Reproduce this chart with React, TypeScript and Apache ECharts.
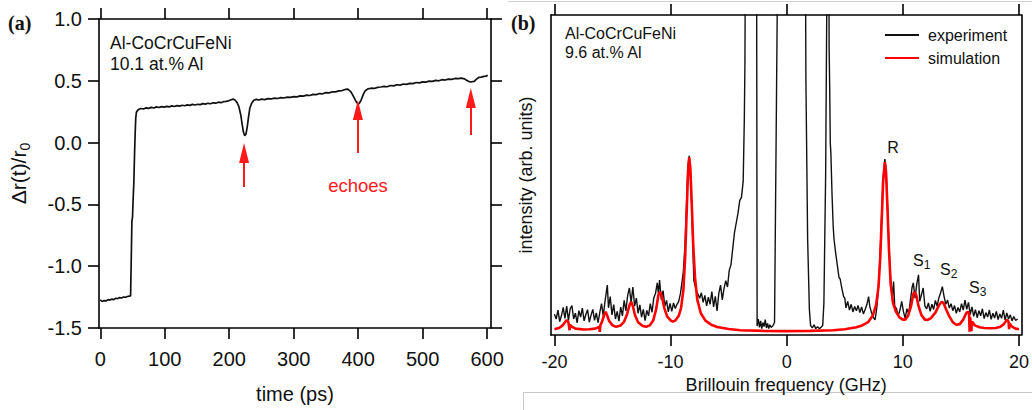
import React, { useEffect, useRef } from "react";
import * as echarts from "echarts";

const FONT = '"Liberation Sans", Arial, sans-serif';

// ---------- Panel (a): reflectivity change vs time ----------
const timeTicks = [0, 100, 200, 300, 400, 500, 600];
const reflectivity: [number, number][] = [
  [0, -1.272], [3, -1.285], [6, -1.278], [9, -1.281], [12, -1.27], [15, -1.274], [18, -1.266],
  [21, -1.27], [24, -1.259], [27, -1.262], [30, -1.254], [33, -1.257], [36, -1.249], [39, -1.251],
  [42, -1.245], [45, -1.242], [47, -1.24], [48, -0.95], [49, -0.64], [50, -0.6], [51, -0.45],
  [52, -0.33], [53, -0.12], [54, 0.06], [55, 0.2], [56, 0.245], [58, 0.262], [60, 0.27],
  [63, 0.276], [67, 0.272], [71, 0.281], [75, 0.277], [79, 0.285], [83, 0.28], [87, 0.289],
  [91, 0.284], [95, 0.291], [99, 0.287], [103, 0.293], [107, 0.289], [111, 0.297], [115, 0.292],
  [119, 0.299], [123, 0.295], [127, 0.302], [131, 0.298], [135, 0.305], [139, 0.301], [143, 0.309],
  [147, 0.304], [151, 0.31], [155, 0.307], [159, 0.315], [163, 0.311], [167, 0.318], [171, 0.314],
  [175, 0.322], [179, 0.319], [183, 0.327], [187, 0.323], [191, 0.331], [195, 0.334], [199, 0.338],
  [203, 0.347], [206, 0.352], [209, 0.345], [212, 0.325], [215, 0.29], [218, 0.22], [220, 0.15],
  [222, 0.085], [224, 0.055], [226, 0.07], [228, 0.13], [230, 0.21], [232, 0.28], [235, 0.32],
  [238, 0.343], [242, 0.35], [246, 0.345], [250, 0.352], [255, 0.348], [260, 0.356], [265, 0.353],
  [270, 0.36], [275, 0.357], [280, 0.364], [285, 0.361], [290, 0.368], [295, 0.366], [300, 0.372],
  [305, 0.37], [310, 0.378], [315, 0.376], [320, 0.384], [325, 0.381], [330, 0.39], [335, 0.388],
  [340, 0.397], [345, 0.395], [350, 0.404], [355, 0.402], [360, 0.411], [365, 0.41], [370, 0.418],
  [375, 0.421], [380, 0.43], [384, 0.432], [388, 0.415], [391, 0.39], [394, 0.36], [397, 0.33],
  [400, 0.31], [402, 0.32], [405, 0.35], [408, 0.39], [411, 0.42], [415, 0.435], [420, 0.44],
  [425, 0.438], [430, 0.447], [435, 0.45], [440, 0.455], [445, 0.452], [450, 0.462], [455, 0.459],
  [460, 0.468], [465, 0.465], [470, 0.474], [475, 0.471], [480, 0.479], [485, 0.477], [490, 0.486],
  [495, 0.483], [500, 0.491], [505, 0.489], [510, 0.497], [515, 0.495], [520, 0.503], [525, 0.5],
  [530, 0.509], [535, 0.506], [540, 0.514], [545, 0.512], [550, 0.519], [555, 0.517], [560, 0.522],
  [565, 0.516], [568, 0.505], [572, 0.494], [576, 0.492], [580, 0.496], [583, 0.512], [587, 0.527],
  [591, 0.53], [595, 0.536], [598, 0.538], [601, 0.544],
];
// echo arrows: [time, tail value, head value]
const echoArrows: [number, number, number][] = [
  [223, -0.36, -0.084],
  [399.5, -0.084, 0.264],
  [574.7, 0.061, 0.361],
];

// ---------- Panel (b): Brillouin spectrum ----------
const freqTicks = [-20, -10, 0, 10, 20];
const experiment: [number, number][] = [
  [-20.0, 6.5], [-19.85, 5.0], [-19.7, 7.8], [-19.55, 4.2], [-19.4, 6.0], [-19.25, 8.6], [-19.1, 5.2],
  [-18.95, 9.0], [-18.8, 4.5], [-18.65, 8.2], [-18.5, 9.2], [-18.35, 5.0], [-18.2, 6.8], [-18.05, 3.8],
  [-17.9, 7.6], [-17.75, 5.6], [-17.6, 8.4], [-17.45, 4.4], [-17.3, 6.4], [-17.15, 7.9], [-17.0, 4.0],
  [-16.85, 6.2], [-16.7, 8.0], [-16.55, 4.6], [-16.4, 6.9], [-16.25, 3.9], [-16.1, 7.0], [-15.95, 9.8],
  [-15.8, 6.0], [-15.65, 10.5], [-15.45, 15.6], [-15.35, 8.5], [-15.2, 12.0], [-15.05, 6.3], [-14.9, 9.5],
  [-14.75, 5.0], [-14.6, 7.4], [-14.45, 4.3], [-14.3, 8.7], [-14.15, 6.0], [-14.0, 10.8], [-13.85, 7.5],
  [-13.7, 12.3], [-13.55, 14.7], [-13.4, 10.2], [-13.25, 15.0], [-13.1, 9.0], [-12.95, 11.5], [-12.8, 6.8],
  [-12.65, 9.4], [-12.5, 5.6], [-12.35, 8.0], [-12.2, 4.5], [-12.05, 7.7], [-11.9, 6.0], [-11.75, 9.8],
  [-11.6, 7.1], [-11.45, 11.6], [-11.3, 13.0], [-11.15, 16.3], [-11.05, 12.8], [-10.95, 17.2], [-10.8, 11.0],
  [-10.65, 13.9], [-10.5, 9.0], [-10.35, 10.8], [-10.2, 7.2], [-10.05, 9.9], [-9.9, 7.4], [-9.75, 10.0],
  [-9.6, 8.3], [-9.45, 9.6], [-9.3, 10.5], [-9.15, 13.0], [-9.0, 17], [-8.9, 20], [-8.75, 29], [-8.6, 44],
  [-8.5, 53], [-8.4, 56], [-8.3, 51], [-8.2, 42], [-8.1, 30], [-8.0, 17], [-7.9, 15.5], [-7.8, 14],
  [-7.65, 12.8], [-7.5, 11.5], [-7.35, 13.2], [-7.2, 10.2], [-7.05, 12.4], [-6.9, 9.1], [-6.75, 11.8],
  [-6.6, 9.6], [-6.45, 13.6], [-6.3, 8.8], [-6.15, 12.1], [-6.0, 7.5], [-5.85, 13.0], [-5.7, 15.6],
  [-5.55, 11.0], [-5.4, 14.6], [-5.25, 17.0], [-5.1, 15.0], [-4.95, 20.2], [-4.8, 22.0], [-4.65, 27.0],
  [-4.5, 32], [-4.35, 35], [-4.2, 38], [-4.05, 42], [-3.9, 43], [-3.75, 48], [-3.7, 58], [-3.65, 68],
  [-3.6, 85], [-3.55, 130], [-2.6, 130], [-2.55, 2.8], [-2.45, 5.0], [-2.35, 2.4], [-2.25, 4.4],
  [-2.15, 2.0], [-2.05, 3.9], [-1.95, 2.6], [-1.85, 4.8], [-1.75, 2.2], [-1.65, 3.6], [-1.55, 2.0],
  [-1.45, 3.2], [-1.35, 2.4], [-1.2, 2.8], [-1.05, 4.0], [-0.75, 130], [1.6, 130], [1.65, 80], [1.8, 30],
  [1.95, 8], [2.05, 3], [2.2, 2.2], [2.35, 3.2], [2.5, 2.0], [2.65, 2.6], [2.8, 2.0], [2.95, 2.4],
  [3.1, 3.0], [3.2, 10], [3.35, 50], [3.5, 130], [3.62, 130], [3.65, 90], [3.7, 77], [3.75, 60],
  [3.8, 57], [3.9, 44], [4.0, 34], [4.07, 30], [4.2, 26], [4.35, 22], [4.5, 18], [4.6, 17.5],
  [4.75, 14.5], [4.9, 12], [5.0, 11.5], [5.1, 8.5], [5.25, 10.5], [5.4, 7.8], [5.55, 9.6], [5.7, 7.2],
  [5.85, 8.9], [6.0, 7.6], [6.15, 9.2], [6.3, 7.0], [6.45, 8.8], [6.6, 6.6], [6.75, 8.0], [6.9, 9.5],
  [7.05, 12.0], [7.15, 9.0], [7.3, 7.0], [7.45, 5.5], [7.6, 4.7], [7.7, 7], [7.8, 10], [7.95, 18],
  [8.05, 26], [8.2, 40], [8.3, 49], [8.45, 55], [8.55, 52], [8.65, 43], [8.8, 28], [8.95, 17], [9.1, 12],
  [9.2, 16.7], [9.3, 9.0], [9.45, 8.2], [9.6, 6.0], [9.75, 7.8], [9.9, 10.5], [10.05, 7.3], [10.2, 5.2],
  [10.35, 8.2], [10.5, 6.6], [10.65, 10.8], [10.8, 15.0], [10.9, 16.3], [11.05, 11.5], [11.2, 16.0],
  [11.35, 18.8], [11.45, 10.5], [11.6, 12.6], [11.75, 14.7], [11.9, 9.0], [12.05, 8.2], [12.2, 10.0],
  [12.35, 7.4], [12.5, 9.6], [12.65, 8.0], [12.8, 10.8], [12.95, 9.0], [13.1, 11.6], [13.25, 13.2],
  [13.4, 15.1], [13.55, 12.0], [13.7, 9.6], [13.85, 10.9], [14.0, 8.4], [14.15, 9.8], [14.3, 7.6],
  [14.45, 9.2], [14.6, 6.8], [14.75, 8.6], [14.9, 7.2], [15.05, 9.8], [15.2, 7.8], [15.35, 10.9],
  [15.5, 8.0], [15.65, 10.2], [15.8, 6.4], [15.95, 8.8], [16.1, 5.8], [16.25, 7.9], [16.4, 5.4],
  [16.55, 7.6], [16.7, 6.0], [16.85, 8.2], [17.0, 5.1], [17.15, 7.0], [17.3, 5.6], [17.45, 7.8],
  [17.6, 4.9], [17.75, 6.8], [17.9, 5.3], [18.05, 7.4], [18.2, 4.8], [18.35, 6.6], [18.5, 5.2],
  [18.65, 7.8], [18.8, 4.7], [18.95, 6.9], [19.1, 5.0], [19.25, 6.3], [19.4, 4.4], [19.55, 5.8],
  [19.7, 4.6], [19.9, 5.0],
];
const simulation: [number, number][] = [
  [-20.0, 1.8], [-19.6, 2.2], [-19.3, 3.0], [-19.1, 4.0], [-18.95, 4.7], [-18.8, 4.0], [-18.7, 1.5],
  [-18.65, 3.2], [-18.5, 2.6], [-18.2, 2.0], [-17.5, 1.7], [-17.0, 1.8], [-16.5, 2.0], [-16.15, 2.5],
  [-16.1, 1.0], [-16.05, 3.0], [-15.9, 4.2], [-15.75, 6.0], [-15.6, 7.3], [-15.45, 6.0], [-15.3, 4.4],
  [-15.0, 3.0], [-14.7, 2.6], [-14.3, 3.0], [-14.0, 4.2], [-13.75, 6.5], [-13.55, 9.2], [-13.4, 10.4],
  [-13.25, 9.0], [-13.05, 6.0], [-12.8, 4.0], [-12.4, 2.8], [-12.1, 2.6], [-11.8, 3.0], [-11.5, 4.5],
  [-11.25, 8.0], [-11.05, 12.5], [-10.9, 13.5], [-10.75, 12.0], [-10.55, 8.5], [-10.3, 5.8], [-10.0, 4.6],
  [-9.8, 4.2], [-9.6, 4.5], [-9.3, 6.0], [-9.1, 8.5], [-8.9, 14.0], [-8.75, 24], [-8.6, 40], [-8.5, 51],
  [-8.4, 55.5], [-8.3, 52], [-8.2, 43], [-8.05, 28], [-7.9, 18], [-7.7, 11], [-7.4, 6.8], [-7.0, 4.5],
  [-6.5, 3.2], [-6.0, 2.5], [-5.0, 1.9], [-4.0, 1.5], [-2.0, 1.3], [0.0, 1.2], [2.0, 1.3], [4.0, 1.5],
  [5.0, 1.8], [6.0, 2.4], [6.5, 3.0], [7.0, 4.0], [7.4, 6.0], [7.7, 9.5], [7.9, 15], [8.05, 24],
  [8.2, 38], [8.3, 48], [8.45, 54], [8.55, 51], [8.65, 42], [8.8, 27], [8.95, 16], [9.15, 10],
  [9.4, 7.3], [9.7, 5.5], [10.0, 4.8], [10.2, 4.8], [10.45, 6.0], [10.7, 9.0], [10.9, 12.8], [11.0, 13.5],
  [11.15, 12.5], [11.35, 9.0], [11.6, 6.2], [11.9, 4.8], [12.1, 4.7], [12.4, 5.2], [12.8, 7.0],
  [13.1, 9.2], [13.35, 10.4], [13.5, 10.0], [13.75, 7.8], [14.0, 5.8], [14.3, 4.0], [14.6, 3.2],
  [14.9, 3.4], [15.2, 4.8], [15.45, 6.8], [15.6, 7.3], [15.7, 6.5], [15.75, 1.0], [15.8, 5.5],
  [15.9, 1.2], [15.95, 4.2], [16.2, 3.0], [16.6, 2.4], [17.0, 2.2], [17.5, 2.1], [18.0, 2.2],
  [18.4, 2.6], [18.7, 3.4], [18.9, 4.5], [19.0, 4.7], [19.1, 4.2], [19.15, 1.8], [19.2, 3.6],
  [19.4, 2.6], [19.7, 2.0], [20.0, 1.8],
];

const AX = { color: "#000", width: 1.6 };

function text(x: number, y: number, t: string, size: number, extra: any = {}) {
  return {
    type: "text",
    x,
    y,
    silent: true,
    style: {
      text: t,
      font: `${size}px ${FONT}`,
      fill: "#111",
      textAlign: "left",
      textVerticalAlign: "middle",
      align: "left",
      verticalAlign: "middle",
      ...extra,
    },
  };
}

function subLabel(x: number, y: number, main: string, sub: string, size: number, subSize: number) {
  return {
    type: "text",
    x,
    y,
    silent: true,
    style: {
      text: `{m|${main}}{s|${sub}}`,
      fill: "#111",
      textAlign: "left",
      textVerticalAlign: "middle",
      align: "left",
      verticalAlign: "middle",
      rich: {
        m: { fontSize: size, fontFamily: FONT, fill: "#111", lineHeight: size + 2, verticalAlign: "top" },
        s: { fontSize: subSize, fontFamily: FONT, fill: "#111", lineHeight: subSize + 1, verticalAlign: "top", padding: [Math.round(size * 0.45), 0, 0, 0] },
      },
    },
  };
}

export default function App() {
  const ref = useRef<HTMLDivElement>(null);
  useEffect(() => {
    if (!ref.current) return;
    const chart = echarts.init(ref.current, null, { renderer: "svg" });
    const tickA = { show: true, length: 11, lineStyle: AX, customValues: timeTicks };
    const tickB = { show: true, length: 11, lineStyle: AX, customValues: freqTicks };
    const option: any = {
      animation: false,
      backgroundColor: "#fff",
      grid: [
        { left: 99, top: 19, width: 392, height: 309 },
        { left: 551, top: 15, width: 476, height: 320 },
      ],
      legend: {
        data: ["experiment", "simulation"],
        left: 884,
        top: 27,
        orient: "vertical",
        itemWidth: 34,
        itemHeight: 12,
        itemGap: 7,
        padding: 0,
        itemStyle: { opacity: 0, borderWidth: 0 },
        textStyle: { fontSize: 16, fontFamily: FONT, color: "#111", padding: [0, 0, 0, 4] },
      },
      xAxis: [
        {
          gridIndex: 0, type: "value", min: -2, max: 606, position: "bottom",
          axisLine: { onZero: false, lineStyle: AX },
          axisTick: tickA,
          axisLabel: { customValues: timeTicks, fontSize: 20, margin: 21, color: "#111", fontFamily: FONT },
          splitLine: { show: false },
          name: "time (ps)", nameLocation: "middle", nameGap: 56,
          nameTextStyle: { fontSize: 20, fontFamily: FONT, color: "#111" },
        },
        {
          gridIndex: 0, type: "value", min: -2, max: 606, position: "top",
          axisLine: { onZero: false, lineStyle: AX },
          axisTick: tickA,
          axisLabel: { show: false },
          splitLine: { show: false },
        },
        {
          gridIndex: 1, type: "value", min: -20.3, max: 20.2, position: "bottom",
          axisLine: { onZero: false, lineStyle: AX },
          axisTick: tickB,
          axisLabel: { customValues: freqTicks, fontSize: 18, margin: 18, color: "#111", fontFamily: FONT },
          splitLine: { show: false },
          name: "Brillouin frequency (GHz)", nameLocation: "middle", nameGap: 37,
          nameTextStyle: { fontSize: 18, fontFamily: FONT, color: "#111" },
        },
        {
          gridIndex: 1, type: "value", min: -20.3, max: 20.2, position: "top",
          axisLine: { onZero: false, lineStyle: AX },
          axisTick: tickB,
          axisLabel: { show: false },
          splitLine: { show: false },
        },
      ],
      yAxis: [
        {
          gridIndex: 0, type: "value", min: -1.5, max: 1.0, interval: 0.5, position: "left",
          axisLine: { onZero: false, lineStyle: AX },
          axisTick: { show: true, length: 11, lineStyle: AX },
          axisLabel: { fontSize: 20, margin: 17, color: "#111", fontFamily: FONT, formatter: (v: number) => v.toFixed(1) },
          splitLine: { show: false },
          name: "{a|Δr(t)/r}{b|0}", nameLocation: "middle", nameGap: 68,
          nameTextStyle: {
            color: "#111",
            rich: {
              a: { fontSize: 21, fontFamily: FONT, color: "#111", lineHeight: 23, verticalAlign: "top" },
              b: { fontSize: 14, fontFamily: FONT, color: "#111", lineHeight: 15, verticalAlign: "top", padding: [10, 0, 0, 0] },
            },
          },
        },
        {
          gridIndex: 0, type: "value", min: -1.5, max: 1.0, interval: 0.5, position: "right",
          axisLine: { onZero: false, lineStyle: AX },
          axisTick: { show: true, length: 11, lineStyle: AX },
          axisLabel: { show: false },
          splitLine: { show: false },
        },
        {
          gridIndex: 1, type: "value", min: 0, max: 100, position: "left",
          axisLine: { onZero: false, lineStyle: AX },
          axisTick: { show: false },
          axisLabel: { show: false },
          splitLine: { show: false },
          name: "intensity (arb. units)", nameLocation: "middle", nameGap: 16,
          nameTextStyle: { fontSize: 18, fontFamily: FONT, color: "#111" },
        },
        {
          gridIndex: 1, type: "value", min: 0, max: 100, position: "right",
          axisLine: { onZero: false, lineStyle: AX },
          axisTick: { show: false },
          axisLabel: { show: false },
          splitLine: { show: false },
        },
      ],
      series: [
        {
          type: "line", name: "reflectivity", xAxisIndex: 0, yAxisIndex: 0, data: reflectivity,
          symbol: "none", lineStyle: { color: "#111", width: 1.7 }, itemStyle: { color: "#111" },
          markLine: {
            silent: true,
            symbol: ["none", "triangle"],
            label: { show: false },
            lineStyle: { color: "#ff1a1a", width: 2, type: "solid" },
            data: echoArrows.map(([t, tail, head]) => [
              { coord: [t, tail], symbol: "none" },
              { coord: [t, head], symbol: "triangle", symbolSize: [10, 20] },
            ]),
          },
        },
        {
          type: "line", name: "experiment", xAxisIndex: 2, yAxisIndex: 2, data: experiment,
          symbol: "none", lineStyle: { color: "#111", width: 1.4 }, itemStyle: { color: "#111" },
        },
        {
          type: "line", name: "simulation", xAxisIndex: 2, yAxisIndex: 2, data: simulation,
          symbol: "none", lineStyle: { color: "#ff0000", width: 2.6 }, itemStyle: { color: "#ff0000" },
        },
      ],
      graphic: [
        {
          type: "line", silent: true,
          shape: { x1: 508, y1: 1.5, x2: 1032, y2: 1.5 },
          style: { stroke: "#d0d0d0", lineWidth: 1 },
        },
        {
          type: "rect", silent: true,
          shape: { x: 523.5, y: 392.5, width: 530, height: 40 },
          style: { stroke: "#c8c8c8", fill: "none", lineWidth: 1 },
        },
        {
          type: "text", x: 8, y: 23, silent: true,
          style: { text: "(a)", font: 'bold 20px "Liberation Serif", serif', fill: "#111", textVerticalAlign: "middle", verticalAlign: "middle" },
        },
        {
          type: "text", x: 511, y: 23, silent: true,
          style: { text: "(b)", font: 'bold 20px "Liberation Serif", serif', fill: "#111", textVerticalAlign: "middle", verticalAlign: "middle" },
        },
        text(110, 43, "Al-CoCrCuFeNi", 17.5),
        text(110, 64, "10.1 at.% Al", 17.5),
        text(358, 185, "echoes", 18.5, { fill: "#ff1a1a", textAlign: "center", align: "center" }),
        text(565, 33, "Al-CoCrCuFeNi", 16),
        text(565, 52, "9.6 at.% Al", 16),
        text(893, 147, "R", 16, { textAlign: "center", align: "center" }),
        subLabel(913, 261, "S", "1", 16, 12),
        subLabel(940, 270, "S", "2", 16, 12),
        subLabel(969, 288, "S", "3", 16, 12),
      ],
    };
    chart.setOption(option);
    return () => chart.dispose();
  }, []);
  return (
    <div
      ref={ref}
      style={{ position: "absolute", left: 0, top: 0, width: 1032, height: 410, background: "#fff" }}
    />
  );
}
